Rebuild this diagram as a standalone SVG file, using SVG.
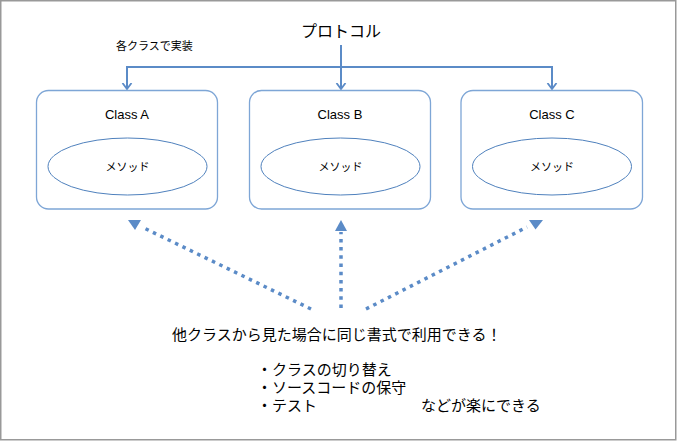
<svg xmlns="http://www.w3.org/2000/svg" width="677" height="441" viewBox="0 0 677 441">
<defs>
<style>
.frame{fill:#ffffff;stroke:#999999;stroke-width:1.5}
.box{fill:#ffffff;stroke:#7ea6d6;stroke-width:1.3}
.ell{fill:#ffffff;stroke:#4f81bd;stroke-width:1}
.conn{fill:none;stroke:#5b8bc7;stroke-width:2}
.dot{fill:none;stroke:#5b8bc7;stroke-width:3.5;stroke-dasharray:3.5 4.7}
.head{fill:#5b8bc7;stroke:none}
.t{font-family:"Liberation Sans","Noto Sans CJK JP",sans-serif;fill:#000000}
.cls{font-size:13px;text-anchor:middle}
.meth{font-size:11px;text-anchor:middle}
.big{font-size:15px}
</style>
<marker id="open" markerUnits="userSpaceOnUse" markerWidth="12" markerHeight="12" refX="6" refY="5" orient="auto" viewBox="0 0 12 10">
<path d="M0,0.5 L6,5 L0,9.5" fill="none" stroke="#5b8bc7" stroke-width="1.8"/>
</marker>
</defs>
<rect class="frame" x="0.75" y="0.75" width="675" height="439"/>

<g id="protocol">
<text class="t" x="341" y="37" font-size="16" text-anchor="middle">プロトコル</text>
</g>
<g id="impl-label">
<text class="t" x="116" y="50" font-size="11">各クラスで実装</text>
</g>

<g id="connectors">
<path class="conn" d="M341,45 V89" marker-end="url(#open)"/>
<path class="conn" d="M127,89 V67 H552 V89" marker-end="url(#open)"/>
<path class="conn" d="M127,67 V89" marker-end="url(#open)"/>
<line class="dot" x1="311" y1="309" x2="142" y2="227"/>
<line class="dot" x1="341" y1="308" x2="341" y2="232"/>
<line class="dot" x1="366" y1="309" x2="527" y2="227"/>
<polygon class="head" points="128,220 141,220 135,230"/>
<polygon class="head" points="335,231 347,231 341,220"/>
<polygon class="head" points="529,220 543,220 535.5,229.5"/>
</g>

<g id="classA">
<rect class="box" x="36.5" y="90.5" width="181" height="118.5" rx="12"/>
<text class="t cls" x="127" y="119">Class A</text>
<ellipse class="ell" cx="127.5" cy="166.5" rx="79.5" ry="28.5"/>
<text class="t meth" x="127.5" y="171">メソッド</text>
</g>
<g id="classB">
<rect class="box" x="249.5" y="90.5" width="181" height="118.5" rx="12"/>
<text class="t cls" x="340" y="119">Class B</text>
<ellipse class="ell" cx="340.5" cy="166.5" rx="79.5" ry="28.5"/>
<text class="t meth" x="340.5" y="171">メソッド</text>
</g>
<g id="classC">
<rect class="box" x="461" y="90.5" width="181.5" height="118.5" rx="12"/>
<text class="t cls" x="552" y="119">Class C</text>
<ellipse class="ell" cx="552" cy="166.5" rx="79.5" ry="28.5"/>
<text class="t meth" x="552" y="171">メソッド</text>
</g>

<g id="notes">
<text class="t big" x="172" y="340">他クラスから見た場合に同じ書式で利用できる！</text>
<text class="t big" x="257" y="375">・クラスの切り替え</text>
<text class="t big" x="257" y="393">・ソースコードの保守</text>
<text class="t big" x="257" y="411">・テスト</text>
<text class="t big" x="421" y="411">などが楽にできる</text>
</g>
</svg>
